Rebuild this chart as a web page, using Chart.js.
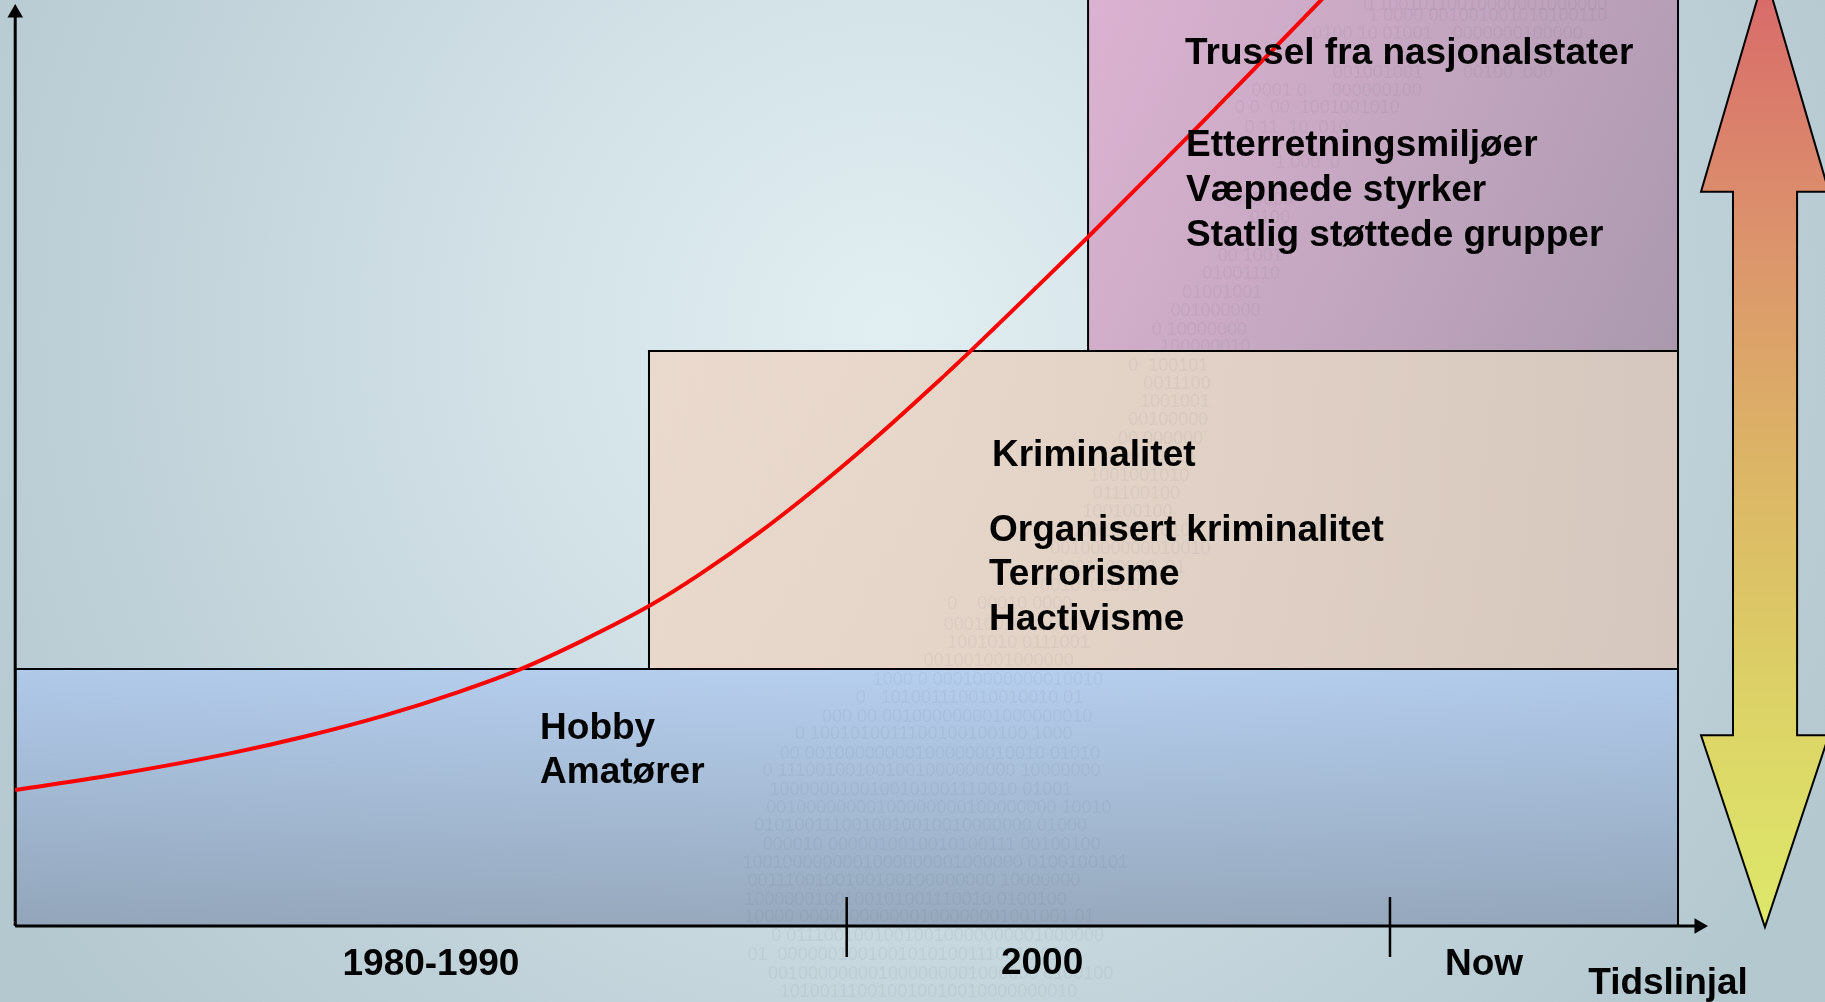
<!DOCTYPE html>
<html lang="no">
<head>
<meta charset="utf-8">
<title>Trusselutvikling</title>
<script src="https://cdn.jsdelivr.net/npm/chart.js@4.4.1/dist/chart.umd.min.js"></script>
<style>
  html, body { margin: 0; padding: 0; background: #c3d5db; }
  #wrap { width: 1825px; height: 1002px; position: relative; }
</style>
</head>
<body>
<div id="wrap"><canvas id="threatChart"></canvas></div>
<script>
// value ranges: x = timeline, y = threat level
const xRange = [-0.9, 107];
const yRange = [-8.2, 100];

// red threat curve
const curveX = [0, 6.2, 12.7, 17.19, 21.75, 26.24, 29.84, 33.51, 37.47, 40.49, 43.86, 47.29, 50.71, 54.14, 56.57, 58.99, 61.06, 63.43, 66.56, 70.0, 73.42, 77.32];
const curveY = [14.69, 16.45, 18.65, 20.5, 22.7, 25.3, 27.72, 30.8, 34.55, 38.0, 42.32, 47.2, 52.46, 58.1, 62.25, 66.51, 70.18, 74.41, 80.14, 86.46, 92.86, 100.2];

// stacked threat bands
const bandXStart = [0, 37.47, 63.43];
const bandXEnd = [98.31, 98.31, 98.31];
const bandYLow = [0, 27.76, 62.1];
const bandYHigh = [27.76, 62.1, 101];

// timeline
const periodLabels = ['1980-1990', '2000', 'Now'];
const periodX = [24.58, 60.71, 86.84];
const periodY = [-4.15, -4.04, -4.15];
const tickX = [49.16, 81.28];
const tickTop = 3.15;
const tickBottom = -3.33;
const axisEndX = 99.55;
const axisEndY = 98.6;

// severity double arrow outline
const arrowX = [103.45, 107.23, 105.35, 105.35, 107.23, 103.45, 99.67, 101.56, 101.56, 99.67, 103.45];
const arrowY = [102.92, 79.3, 79.3, 20.6, 20.6, -0.1, 20.6, 20.6, 79.3, 79.3, 102.92];

// texts in the bands
const noteText = ['Hobby', 'Amatører', 'Kriminalitet', 'Organisert kriminalitet', 'Terrorisme', 'Hactivisme',
  'Trussel fra nasjonalstater', 'Etterretningsmiljøer', 'Væpnede styrker', 'Statlig støttede grupper'];
const noteX = [31.03, 31.03, 57.75, 57.57, 57.57, 57.57, 69.16, 69.22, 69.22, 69.22];
const noteY = [21.34, 16.58, 50.82, 42.72, 37.88, 33.02, 94.22, 84.29, 79.42, 74.56];

// faint binary background rows
const binaryText = [
  '0 10010110010000001000000', '1 0000 001001001010100110', '0100 10 01001    0000000100000',
  '001001001        00100  000', '0001 0     000000100', '0 0  00  1001001010', '0 11  10  010',
  '1 000  0', '000000', '0100', '00 1001', '01001110', '01001001', '001000000', '0 10000000',
  '100000010', '0  100101', '0011100', '1001001', '00100000', '00 000000', '0001 0010',
  '1001001010', '011100100', '100100100', '0000100001010', '0010000000010010', '0001000000  01',
  '0010  01000', '0    00010 0000', '0001001001 0000', '1001010 0111001', '001001001000000',
  '1000 0 00010000000010010', '0   101001110010010010 01', '000 00 001000000001000000010',
  '0 1001010011100100100100 1000', '00 001000000001000000010010 01010',
  '0 111001001001001000000000 10000000', '1000000100100101001110010 01001',
  '00100000000100000000100000000 10010', '0101001110010010010010000000 01000',
  '000010 0000010010010100111 00100100', '1001000000001000000001000000 0100100101',
  '0011100100100100100000000 10000000', '1000000100100101001110010 0100100',
  '10000 000000000000100000001001001 01', '0 01110010010010010000000001000000',
  '01  00000010010010101001110010 01', '001000000001000000001000000 0100100',
  '101001110010010010010000000010'];
const binaryX = [79.7, 80.0, 76.7, 77.9, 73.1, 72.1, 72.7, 74.5, 72.0, 73.0, 71.1, 70.2, 69.0, 68.3, 67.2,
  67.7, 65.8, 66.7, 66.5, 65.8, 65.2, 64.7, 63.5, 63.7, 63.1, 61.8, 61.2, 61.5, 60.6, 55.1, 54.9, 55.1, 53.7,
  50.7, 49.7, 47.7, 46.1, 45.2, 44.2, 44.6, 44.4, 43.7, 44.2, 43.0, 43.3, 43.1, 43.1, 44.7, 43.3, 44.5, 45.2];
const binaryY = [99.5, 98.3, 96.3, 92.1, 90.2, 88.3, 86.2, 82.4, 78.4, 76.5, 72.3, 70.4, 68.4, 66.4, 64.4,
  62.5, 60.5, 58.5, 56.6, 54.6, 52.6, 50.6, 48.6, 46.7, 44.7, 42.7, 40.7, 38.7, 36.7, 34.8, 32.5, 30.6, 28.6,
  26.6, 24.6, 22.6, 20.7, 18.6, 16.7, 14.7, 12.7, 10.8, 8.7, 6.8, 4.9, 2.8, 1.0, -1.1, -3.1, -5.2, -7.1];

const labelFont = 'bold 37px "Liberation Sans", Arial, sans-serif';

function pts(xs, ys) {
  return xs.map((v, i) => ({x: v, y: ys[i]}));
}

function bandPoints(i) {
  const x0 = bandXStart[i], x1 = bandXEnd[i], y0 = bandYLow[i], y1 = bandYHigh[i];
  return [{x: x0, y: y0}, {x: x0, y: y1}, {x: x1, y: y1}, {x: x1, y: y0}, {x: x0, y: y0}];
}

function bandFill(i, c0, c1, dir) {
  return (ctx) => {
    const chart = ctx.chart;
    const sx = chart.scales.x, sy = chart.scales.y;
    if (!sx || !sy || !chart.chartArea) return c0;
    const x0 = sx.getPixelForValue(bandXStart[i]), x1 = sx.getPixelForValue(bandXEnd[i]);
    const y0 = sy.getPixelForValue(Math.min(bandYHigh[i], yRange[1])), y1 = sy.getPixelForValue(bandYLow[i]);
    let g;
    if (dir === 'h') g = chart.ctx.createLinearGradient(x0, 0, x1, 0);
    else if (dir === 'd') g = chart.ctx.createLinearGradient(x0, y0, x1, y1);
    else g = chart.ctx.createLinearGradient(0, y0, 0, y1);
    g.addColorStop(0, c0);
    g.addColorStop(1, c1);
    return g;
  };
}

function arrowFill(ctx) {
  const chart = ctx.chart;
  const sy = chart.scales.y;
  if (!sy || !chart.chartArea) return '#dcb866';
  const g = chart.ctx.createLinearGradient(0, sy.getPixelForValue(100), 0, sy.getPixelForValue(0));
  g.addColorStop(0, '#d86c6a');
  g.addColorStop(0.25, '#dc926c');
  g.addColorStop(0.5, '#dcb566');
  g.addColorStop(0.75, '#dcd266');
  g.addColorStop(1, '#dde86a');
  return g;
}

const backdrop = {
  id: 'backdrop',
  beforeDraw(chart) {
    const c = chart.ctx;
    const w = chart.width, h = chart.height;
    const g = c.createRadialGradient(890, 330, 0, 890, 330, 1050);
    g.addColorStop(0, '#e2eff2');
    g.addColorStop(0.35, '#d2e2e7');
    g.addColorStop(0.75, '#bfd1d8');
    g.addColorStop(1, '#b4c8d0');
    c.save();
    c.fillStyle = g;
    c.fillRect(0, 0, w, h);
    c.restore();
  }
};

const labels = {
  id: 'labels',
  afterDatasetsDraw(chart) {
    const c = chart.ctx;
    const sx = chart.scales.x, sy = chart.scales.y;
    c.save();
    c.font = '18px "Liberation Sans", Arial, sans-serif';
    c.fillStyle = 'rgba(40, 55, 75, 0.05)';
    c.textAlign = 'left';
    c.textBaseline = 'middle';
    binaryText.forEach((t, i) => c.fillText(t, sx.getPixelForValue(binaryX[i]), sy.getPixelForValue(binaryY[i])));

    c.font = labelFont;
    c.fillStyle = '#000';
    noteText.forEach((t, i) => c.fillText(t, sx.getPixelForValue(noteX[i]), sy.getPixelForValue(noteY[i])));
    c.textAlign = 'center';
    periodLabels.forEach((t, i) => c.fillText(t, sx.getPixelForValue(periodX[i]), sy.getPixelForValue(periodY[i])));
    c.fillText('Tidslinjal', sx.getPixelForValue(97.72), sy.getPixelForValue(-6.2));
    c.restore();
  }
};

const shape = {
  showLine: true, tension: 0, pointRadius: 0, clip: false,
  borderColor: '#000', borderWidth: 2, borderJoinStyle: 'miter', fill: 'shape'
};

new Chart(document.getElementById('threatChart'), {
  type: 'scatter',
  data: {
    datasets: [
      { label: 'Trussel', data: pts(curveX, curveY), showLine: true, borderColor: '#ff0000', borderWidth: 4,
        cubicInterpolationMode: 'monotone', pointRadius: 0, fill: false, order: 0 },
      { label: 'y-akse', data: [{x: 0, y: 0}, {x: 0, y: axisEndY}], showLine: true, borderColor: '#000', borderWidth: 3,
        pointRadius: [0, 9], pointStyle: 'triangle', pointBackgroundColor: '#000', pointBorderWidth: 0, clip: false, order: 1 },
      { label: 'x-akse', data: [{x: 0, y: 0}, {x: axisEndX, y: 0}], showLine: true, borderColor: '#000', borderWidth: 3,
        pointRadius: [0, 9], pointStyle: 'triangle', pointRotation: 90, pointBackgroundColor: '#000', pointBorderWidth: 0, clip: false, order: 1 },
      ...tickX.map((t) => ({ label: 'tick', data: [{x: t, y: tickTop}, {x: t, y: tickBottom}], showLine: true,
        borderColor: '#000', borderWidth: 2.5, pointRadius: 0, clip: false, order: 1 })),
      { label: 'Alvorlighet', data: pts(arrowX, arrowY), ...shape, backgroundColor: arrowFill, order: 2 },
      { label: 'Nasjonalstater', data: bandPoints(2), ...shape,
        backgroundColor: bandFill(2, 'rgba(222,165,203,0.78)', 'rgba(165,140,164,0.82)', 'd'), order: 3 },
      { label: 'Kriminalitet', data: bandPoints(1), ...shape,
        backgroundColor: bandFill(1, 'rgba(238,214,196,0.8)', 'rgba(219,197,184,0.82)', 'h'), order: 4 },
      { label: 'Hobby', data: bandPoints(0), ...shape,
        backgroundColor: bandFill(0, 'rgba(172,200,240,0.75)', 'rgba(138,157,180,0.8)', 'v'), order: 5 }
    ]
  },
  options: {
    responsive: true,
    maintainAspectRatio: false,
    animation: false,
    events: [],
    layout: { padding: 0, autoPadding: false },
    plugins: { legend: { display: false }, tooltip: { enabled: false } },
    scales: {
      x: { type: 'linear', min: xRange[0], max: xRange[1], display: false },
      y: { type: 'linear', min: yRange[0], max: yRange[1], display: false }
    }
  },
  plugins: [backdrop, labels]
});
</script>
</body>
</html>
